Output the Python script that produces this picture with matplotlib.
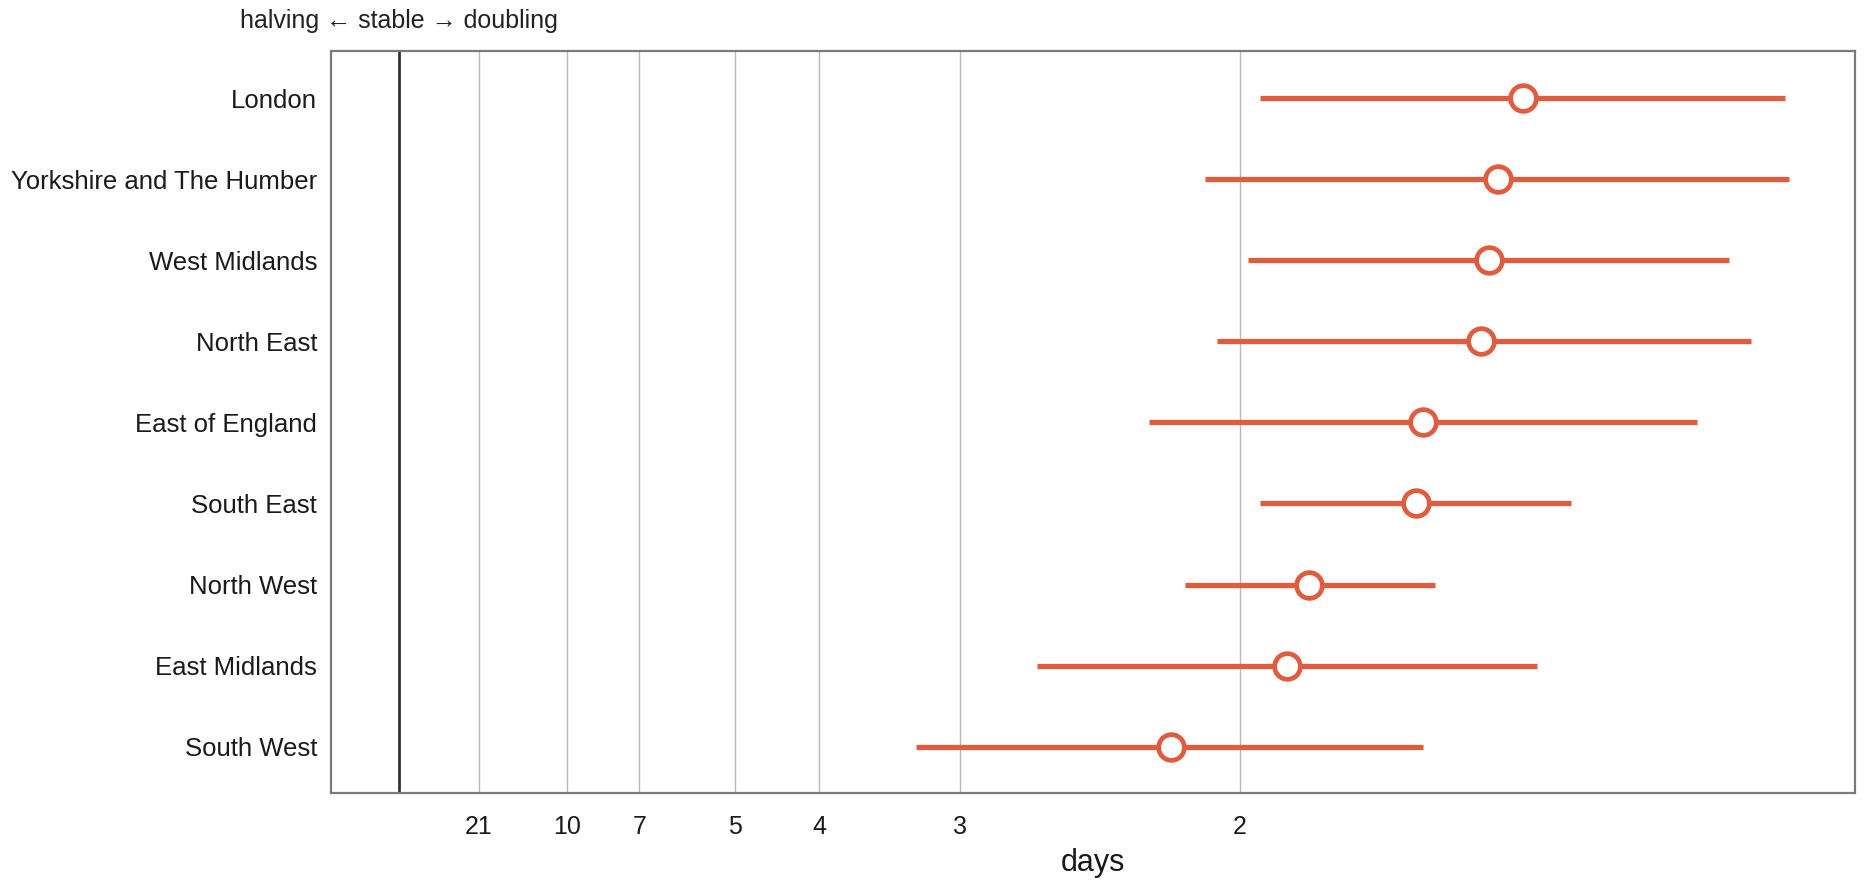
import matplotlib.pyplot as plt
import numpy as np

# regional growth rates (per day): lower bound, estimate, upper bound
regions = [
    "London",
    "Yorkshire and The Humber",
    "West Midlands",
    "North East",
    "East of England",
    "South East",
    "North West",
    "East Midlands",
    "South West",
]
rate_lo = [0.355, 0.332, 0.350, 0.337, 0.309, 0.355, 0.324, 0.263, 0.213]
rate_mid = [0.463, 0.453, 0.449, 0.446, 0.422, 0.419, 0.375, 0.366, 0.318]
rate_hi = [0.571, 0.573, 0.548, 0.557, 0.535, 0.483, 0.427, 0.469, 0.422]

# doubling times (days) shown on the x axis
doubling_days = [21, 10, 7, 5, 4, 3, 2]

line_col = "#e05c3e"
font = ["Liberation Sans", "DejaVu Sans"]
plt.rcParams["font.family"] = font

fig = plt.figure(figsize=(18.69, 8.88), dpi=100)
ax = fig.add_axes([0.1771, 0.1070, 0.8154, 0.8356])

tick_pos = np.log(2) / np.array(doubling_days)
for t in tick_pos:
    ax.axvline(t, color="#b8b8b8", lw=1.0, zorder=0)
ax.axvline(0, color="#333333", lw=2.0, zorder=1)

y = np.arange(len(regions))
ax.hlines(y, rate_lo, rate_hi, color=line_col, lw=3.8, zorder=2)
ax.plot(rate_mid, y, "o", ms=18.5, mfc="white", mec=line_col, mew=3.4, zorder=3)

ax.set_xlim(-0.028, 0.600)
ax.set_ylim(len(regions) - 0.43, -0.58)
ax.set_yticks(y)
ax.set_yticklabels(regions, fontsize=18.5, color="#1a1a1a")
ax.set_xticks(tick_pos)
ax.set_xticklabels([str(d) for d in doubling_days], fontsize=18, color="#1a1a1a")
ax.tick_params(length=0)
ax.tick_params(axis="x", pad=16)
ax.tick_params(axis="y", pad=10)
ax.set_xlabel("days", fontsize=22, labelpad=6, color="#1a1a1a")

for s in ax.spines.values():
    s.set_color("#7a7a7a")
    s.set_linewidth(1.6)

ax.text(0, 1.04, "halving \u2190 stable \u2192 doubling", transform=ax.get_xaxis_transform(),
        ha="center", va="center", fontsize=18, color="#222222")

fig.savefig("out.png", dpi=100)
